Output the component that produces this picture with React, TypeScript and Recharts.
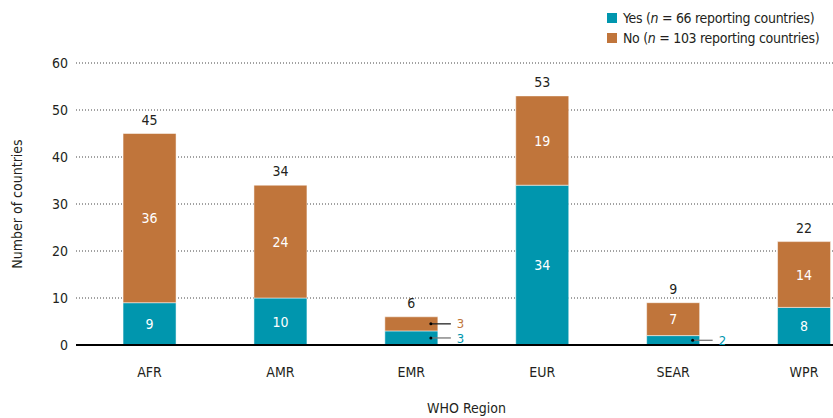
import React from 'react'
import { ComposedChart, Bar, XAxis, YAxis, CartesianGrid, LabelList, Label } from 'recharts'

const regions = ['AFR', 'AMR', 'EMR', 'EUR', 'SEAR', 'WPR']
const yesValues = [9, 10, 3, 34, 2, 8]
const noValues = [36, 24, 3, 19, 7, 14]
const yTicks = [0, 10, 20, 30, 40, 50, 60]
// regions whose segments are too thin for an inside label
const outsideYes = ['EMR', 'SEAR']
const outsideNo = ['EMR']

const data = regions.map((r, i) => ({
  idx: i,
  region: r,
  yes: yesValues[i],
  no: noValues[i],
  total: yesValues[i] + noValues[i],
}))

const FONT = "'Liberation Sans Narrow', 'DejaVu Sans Condensed', 'Roboto', sans-serif"
const TEAL = '#0096ae'
const BROWN = '#c0753b'
const INK = '#231f20'
const FS = 14

/* eslint-disable @typescript-eslint/no-explicit-any */
const segLabel = (outside: string[], color: string, lineColor: string) => (p: any) => {
  const { x, y, width, height, value, index } = p
  const region = regions[index]
  if (outside.includes(region)) {
    const cy = y + height / 2
    return (
      <g key={`o${index}`}>
        <line x1={x + width - 7} y1={cy} x2={x + width + 13} y2={cy} stroke={lineColor} strokeWidth={1.3} />
        <circle cx={x + width - 7} cy={cy} r={1.5} fill="#000" />
        <text x={x + width + 19} y={cy} dy="0.35em" fill={color} fontSize={13} fontFamily={FONT}>{value}</text>
      </g>
    )
  }
  return (
    <text key={`i${index}`} x={x + width / 2} y={y + height / 2} dy="0.36em" textAnchor="middle" fill="#fff" fontSize={FS} fontFamily={FONT}>
      {value}
    </text>
  )
}

const totalLabel = (p: any) => {
  const { x, y, width, index } = p
  return (
    <text key={`t${index}`} x={x + width / 2} y={y - 9} textAnchor="middle" fill={INK} fontSize={FS} fontFamily={FONT}>
      {data[index].total}
    </text>
  )
}
/* eslint-enable @typescript-eslint/no-explicit-any */

const swatch = (c: string) => (
  <span style={{ width: 10, height: 10, background: c, marginRight: 6, display: 'inline-block' }} />
)

export default function App() {
  return (
    <div style={{ position: 'absolute', left: 0, top: 0, width: 833, height: 418, background: '#fff' }}>
      <ComposedChart width={833} height={418} data={data} margin={{ top: 63, right: 0, bottom: 0, left: 16 }}>
        <CartesianGrid vertical={false} stroke="#444" strokeDasharray="1 2" />
        <XAxis
          dataKey="idx"
          type="number"
          domain={[-0.5615, 5.2215]}
          ticks={[0, 1, 2, 3, 4, 5]}
          tickFormatter={(i: number) => regions[i]}
          height={73}
          axisLine={{ stroke: '#000', strokeWidth: 2 }}
          tickLine={false}
          tickMargin={16}
          tick={{ fontSize: FS, fill: INK, fontFamily: FONT }}
          interval={0}
        >
          <Label value="WHO Region" position="insideBottom" offset={5} dx={12} fill={INK} fontSize={FS} fontFamily={FONT} />
        </XAxis>
        <YAxis
          width={60}
          domain={[0, 60]}
          ticks={yTicks}
          axisLine={false}
          tickLine={false}
          tickMargin={2}
          tick={{ fontSize: FS, fill: INK, fontFamily: FONT }}
        >
          <Label
            content={({ viewBox }: any) => {
              const cy = viewBox.y + viewBox.height / 2
              return (
                <text x={22} y={cy} transform={`rotate(-90 22 ${cy})`} textAnchor="middle" fill={INK} fontSize={FS} fontFamily={FONT}>
                  Number of countries
                </text>
              )
            }}
          />
        </YAxis>
        <Bar dataKey="yes" stackId="a" fill={TEAL} barSize={53} stroke="#fff" strokeWidth={0.5} isAnimationActive={false}>
          <LabelList dataKey="yes" content={segLabel(outsideYes, TEAL, '#777')} />
        </Bar>
        <Bar dataKey="no" stackId="a" fill={BROWN} barSize={53} stroke="#fff" strokeWidth={0.5} isAnimationActive={false}>
          <LabelList dataKey="no" content={segLabel(outsideNo, BROWN, '#222')} />
          <LabelList dataKey="total" content={totalLabel} />
        </Bar>
      </ComposedChart>
      <div
        style={{
          position: 'absolute', left: 607, top: 8, fontFamily: FONT, fontSize: FS, color: INK,
          lineHeight: '20px', whiteSpace: 'nowrap', letterSpacing: -0.3,
        }}
      >
        <div style={{ display: 'flex', alignItems: 'center' }}>
          {swatch(TEAL)}
          <span>Yes (<i>n</i> = 66 reporting countries)</span>
        </div>
        <div style={{ display: 'flex', alignItems: 'center' }}>
          {swatch(BROWN)}
          <span>No (<i>n</i> = 103 reporting countries)</span>
        </div>
      </div>
    </div>
  )
}
